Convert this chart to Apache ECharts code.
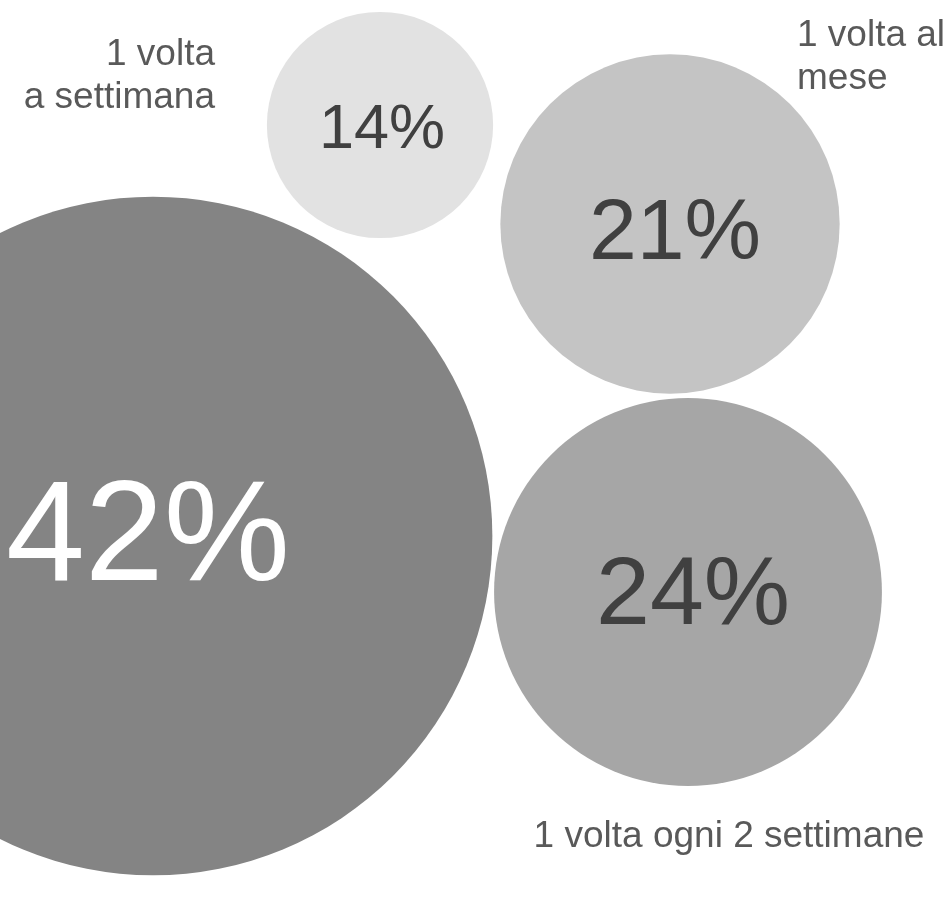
<!DOCTYPE html>
<html>
<head>
<meta charset="utf-8">
<script src="https://cdn.jsdelivr.net/npm/echarts@6/dist/echarts.min.js"></script>
<style>
html, body { margin: 0; padding: 0; background: #fff; }
#chart { width: 948px; height: 903px; }
</style>
</head>
<body>
<div id="chart"></div>
<script>
// dati del grafico
const categories = ['1 volta\na settimana', '1 volta al\nmese', '1 volta ogni 2 settimane', ''];
const shares = [14, 21, 24, 42];

// layout: centri delle bolle e ancore delle etichette (unità degli assi)
const bubbleX = [380, 670, 688, 153];
const bubbleY = [125, 224, 592, 536];
const nameX = [220, 792, 729, null];
const nameY = [76, 57, 837, null];

// stili
const FONT = 'Liberation Sans, Arial, sans-serif';
const DIAM_PER_POINT = 16.16; // diametro in px per punto percentuale
const colors = ['#e2e2e2', '#c4c4c4', '#a6a6a6', '#848484'];
const pctColors = ['#404040', '#404040', '#404040', '#ffffff'];
const pctSizes = [63, 86, 97, 142];
const pctShift = [[2, 6], [5, 11], [5, 5], [-5, 5]];
const namePos = ['left', 'right', 'inside', 'inside'];

const chart = echarts.init(document.getElementById('chart'));

const bubbles = shares.map((v, i) => ({
  value: [bubbleX[i], bubbleY[i], v],
  itemStyle: { color: colors[i], opacity: 1 },
  label: { color: pctColors[i], fontSize: pctSizes[i], offset: pctShift[i] }
}));

const names = [];
categories.forEach((c, i) => {
  if (!c) return;
  names.push({
    value: [nameX[i], nameY[i]],
    name: c,
    label: { position: namePos[i] }
  });
});

const option = {
  backgroundColor: '#ffffff',
  animation: false,
  grid: { left: 0, right: 0, top: 0, bottom: 0 },
  xAxis: { type: 'value', min: 0, max: 948, show: false },
  yAxis: { type: 'value', min: 0, max: 903, inverse: true, show: false },
  series: [
    {
      type: 'scatter',
      data: bubbles,
      symbol: 'circle',
      symbolSize: (val) => val[2] * DIAM_PER_POINT,
      silent: true,
      clip: false,
      itemStyle: { opacity: 1 },
      label: {
        show: true,
        position: 'inside',
        fontFamily: FONT,
        fontWeight: 'normal',
        textBorderWidth: 0,
        formatter: (p) => p.value[2] + '%'
      }
    },
    {
      type: 'scatter',
      data: names,
      symbolSize: 0,
      silent: true,
      itemStyle: { opacity: 1 },
      label: {
        show: true,
        distance: 5,
        fontFamily: FONT,
        fontSize: 37,
        lineHeight: 43,
        color: '#595959',
        textBorderWidth: 0,
        formatter: (p) => p.name
      }
    }
  ]
};

chart.setOption(option);
</script>
</body>
</html>
